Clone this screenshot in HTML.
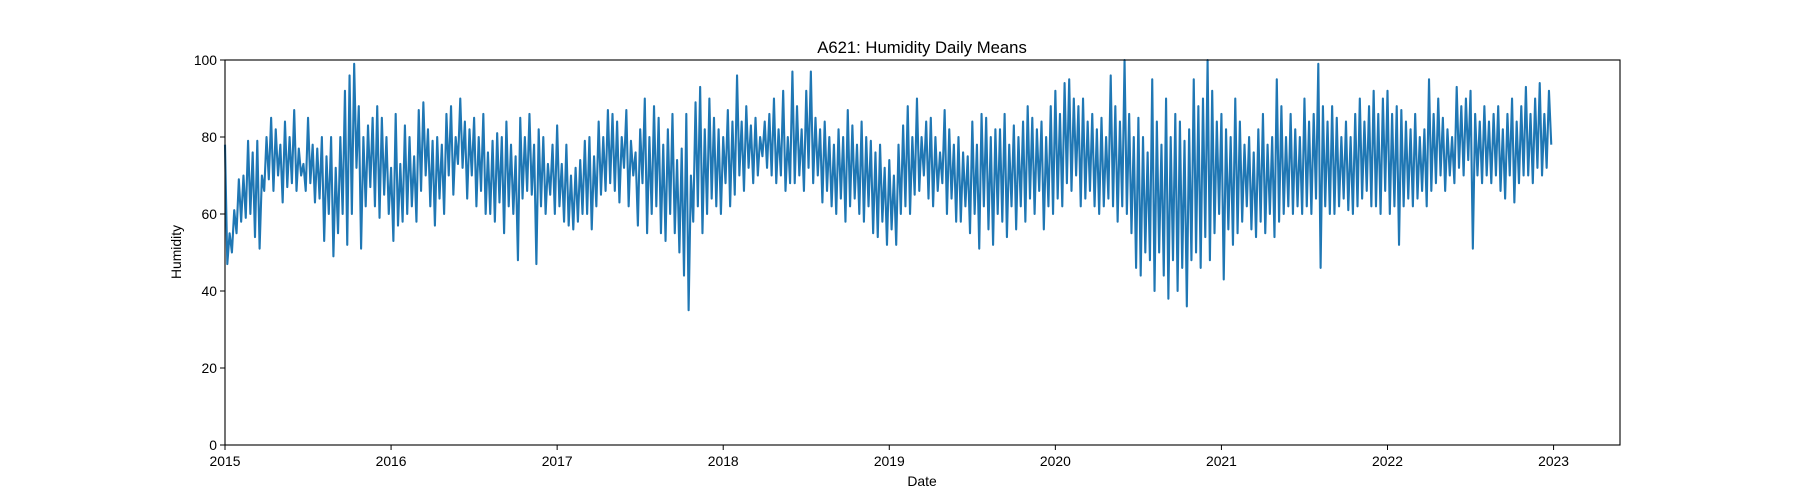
<!DOCTYPE html>
<html><head><meta charset="utf-8"><style>
body{margin:0;background:#fff;}
svg{display:block;font-family:"Liberation Sans","DejaVu Sans",sans-serif;}
</style></head><body>
<svg id="chart" width="1800" height="500" viewBox="0 0 1800 500" xmlns="http://www.w3.org/2000/svg">
<rect width="1800" height="500" fill="#fff"/>
<g id="plot"></g>
<g id="axes"></g>
<text x="922" y="53" text-anchor="middle" font-size="16.7" fill="#000">A621: Humidity Daily Means</text>
<text x="922" y="486" text-anchor="middle" font-size="13.9" fill="#000">Date</text>
<text x="181" y="252" text-anchor="middle" font-size="13.9" fill="#000" transform="rotate(-90 181 252)">Humidity</text>
</svg>
<script>
const startYear = 2015;
const pointsPerMonth = 6;
const humidity = [
78,47,55,50,61,55, 69,58,70,59,79,60, 76,54,79,51,70,66, 80,69,85,66,82,70, 78,63,84,67,80,68, 87,66,77,70,73,66,
85,68,78,63,77,64, 80,53,75,60,80,49, 72,55,80,60,92,52, 96,60,99,72,88,51, 80,62,83,67,85,62, 88,59,85,65,80,60,
72,53,86,57,73,58, 83,60,80,62,75,58, 87,66,89,70,82,62, 79,57,80,64,78,60, 86,70,88,65,80,73, 90,72,84,64,82,70,
85,62,80,66,86,60, 76,60,79,58,81,63, 80,55,84,62,78,60, 75,48,85,64,80,66, 86,65,78,47,82,62, 80,60,73,65,78,60,
83,62,73,58,78,57, 70,56,72,58,74,60, 79,60,80,56,75,62, 84,65,80,66,87,68, 86,66,84,63,80,72, 87,62,79,70,76,57,
82,68,90,55,80,60, 88,62,85,55,78,53, 82,60,86,55,74,50, 77,44,86,35,70,58, 89,62,93,55,82,60, 90,64,85,62,82,60,
80,68,87,62,84,65, 96,70,84,66,88,72, 83,68,85,70,80,75, 84,72,86,70,90,68, 82,70,92,66,80,68, 97,68,88,70,82,66,
92,72,97,68,85,70, 82,63,84,66,80,62, 78,60,82,64,80,58, 87,62,83,64,78,60, 84,58,80,62,79,55, 76,54,78,58,72,52,
74,56,70,52,78,60, 83,62,88,60,80,65, 90,66,80,70,84,64, 85,62,80,66,76,68, 87,60,82,64,78,58, 80,58,76,62,75,55,
84,60,78,51,86,62, 85,56,80,52,82,60, 82,58,86,54,78,62, 83,56,80,62,84,58, 88,64,85,60,82,66, 84,56,80,62,88,60,
92,64,86,62,94,68, 95,66,90,70,88,62, 90,64,84,66,86,62, 82,60,85,62,80,64, 96,62,88,58,84,62, 100,60,86,55,80,46,
85,44,80,50,76,48, 95,40,84,50,78,44, 90,38,80,48,86,40, 84,46,79,36,82,48, 95,50,88,46,90,54, 100,48,92,55,84,60,
86,43,82,56,80,52, 90,55,84,58,78,62, 80,56,76,54,82,58, 86,55,78,60,80,54, 95,58,88,60,80,62, 86,60,82,62,80,60,
90,62,84,60,86,64, 99,46,88,62,84,60, 88,60,85,62,80,64, 84,61,80,60,86,62, 90,64,84,66,88,62, 92,62,86,60,90,66,
92,60,86,62,88,52, 87,62,84,64,82,62, 86,64,80,66,82,62, 95,66,86,68,90,70, 85,66,82,70,80,68, 93,72,88,70,90,74,
92,51,86,70,84,68, 88,70,84,68,86,70, 88,66,82,64,86,70, 90,63,84,68,88,70, 93,70,86,68,90,72, 94,70,86,72,92,78
];
const yTicks = [0,20,40,60,80,100];
const xTickYears = [2015,2016,2017,2018,2019,2020,2021,2022,2023];

const L=225,R=1620,T=60,B=445;
const x0=2015, x1=2023.4;
function xScale(yearFrac){return L+(yearFrac-x0)/(x1-x0)*(R-L);}
function yScale(v){return B-(v/100)*(B-T);}
const NS="http://www.w3.org/2000/svg";
const plot=document.getElementById('plot');
const axes=document.getElementById('axes');

let d="";
humidity.forEach((v,i)=>{
  const yf=startYear+i/(12*pointsPerMonth);
  d+=(i?"L":"M")+xScale(yf).toFixed(2)+","+yScale(v).toFixed(2);
});
const line=document.createElementNS(NS,'path');
line.setAttribute('d',d);
line.setAttribute('fill','none');
line.setAttribute('stroke','#1f77b4');
line.setAttribute('stroke-width','2.1');
line.setAttribute('stroke-linejoin','round');


plot.appendChild(line);

const frame=document.createElementNS(NS,'rect');
frame.setAttribute('x',L);frame.setAttribute('y',T);
frame.setAttribute('width',R-L);frame.setAttribute('height',B-T);
frame.setAttribute('fill','none');frame.setAttribute('stroke','#000');frame.setAttribute('stroke-width','1.1');


axes.appendChild(frame);

yTicks.forEach(t=>{
  const y=yScale(t);
  const tk=document.createElementNS(NS,'line');
  tk.setAttribute('x1',L-5);tk.setAttribute('x2',L);tk.setAttribute('y1',y);tk.setAttribute('y2',y);
  tk.setAttribute('stroke','#000');
  
  
  axes.appendChild(tk);
  const tx=document.createElementNS(NS,'text');
  tx.setAttribute('x',L-8);tx.setAttribute('y',y+5);tx.setAttribute('text-anchor','end');
  tx.setAttribute('font-size','13.9');
  tx.textContent=t;
  
  
  axes.appendChild(tx);
});
xTickYears.forEach(t=>{
  const x=xScale(t);
  const tk=document.createElementNS(NS,'line');
  tk.setAttribute('x1',x);tk.setAttribute('x2',x);tk.setAttribute('y1',B);tk.setAttribute('y2',B+5);
  tk.setAttribute('stroke','#000');
  
  
  axes.appendChild(tk);
  const tx=document.createElementNS(NS,'text');
  tx.setAttribute('x',x);tx.setAttribute('y',B+21);tx.setAttribute('text-anchor','middle');
  tx.setAttribute('font-size','13.9');
  tx.textContent=t;
  
  
  axes.appendChild(tx);
});
</script>
</body></html>
